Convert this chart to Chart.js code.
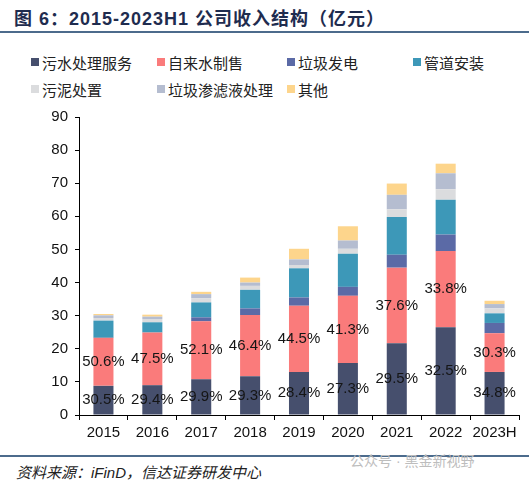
<!DOCTYPE html>
<html>
<head>
<meta charset="utf-8">
<script src="https://cdn.jsdelivr.net/npm/chart.js@4.4.0/dist/chart.umd.min.js"></script>
<style>
  body { margin: 0; width: 529px; height: 481px; background: #fff; position: relative; overflow: hidden;
         font-family: "Liberation Sans", Arial, "Noto Sans CJK SC", sans-serif; }
  #title { position: absolute; left: 14px; top: 4px; font-size: 18px; font-weight: bold; color: #1f2c4f;
           letter-spacing: 1px; white-space: nowrap; }
  #topline { position: absolute; left: 0; top: 31px; width: 529px; height: 2px; background: #4c6b8c; }
  #legend { position: absolute; left: 31px; top: 52px; display: grid;
            grid-template-columns: 126px 130px 126px 116px; row-gap: 7px; font-size: 15px; color: #222; }
  #legend div { display: flex; align-items: center; height: 20px; white-space: nowrap; }
  #legend span.box { width: 8px; height: 8px; margin-right: 3px; display: inline-block; }
  #wrap { position: absolute; left: 0; top: 100px; width: 529px; height: 345px; }
  #botline { position: absolute; left: 0; top: 455px; width: 529px; height: 2px; background: #4c6b8c; }
  #source { position: absolute; left: 16px; top: 461px; font-size: 15px; font-style: italic; color: #222; white-space: nowrap; }
  #mark { position: absolute; left: 350px; top: 450px; font-size: 14px; color: #bdbdbd; white-space: nowrap; }
</style>
</head>
<body>
<div id="title">图 6：2015-2023H1 公司收入结构（亿元）</div>
<div id="topline"></div>
<div id="legend"></div>
<div id="wrap"><canvas id="revenue-chart"></canvas></div>
<div id="botline"></div>
<div id="source">资料来源：iFinD，信达证券研发中心</div>
<div id="mark">公众号 · 黑金新视野</div>
<script>
  // Data (亿元)
  var years = ["2015", "2016", "2017", "2018", "2019", "2020", "2021", "2022", "2023H"];
  var sewage = [8.8, 9.0, 10.8, 11.7, 13.0, 15.7, 21.7, 26.5, 13.0];
  var water = [14.5, 15.9, 17.5, 18.5, 20.0, 20.3, 22.8, 23.0, 11.7];
  var power = [0, 0, 1.2, 2.0, 2.5, 2.7, 3.9, 5.0, 3.1];
  var pipe = [5.2, 3.1, 4.5, 5.6, 8.8, 10.0, 11.4, 10.5, 2.9];
  var sludge = [0.8, 1.0, 1.3, 1.2, 1.0, 1.5, 2.3, 3.2, 1.5];
  var leachate = [0.8, 0.7, 1.2, 1.0, 1.7, 2.5, 4.4, 4.8, 1.3];
  var other = [0.4, 0.6, 0.7, 1.5, 3.2, 4.3, 3.4, 2.9, 1.0];
  var sewagePct = ["30.5%", "29.4%", "29.9%", "29.3%", "28.4%", "27.3%", "29.5%", "32.5%", "34.8%"];
  var waterPct = ["50.6%", "47.5%", "52.1%", "46.4%", "44.5%", "41.3%", "37.6%", "33.8%", "30.3%"];
  var yTicks = [0, 10, 20, 30, 40, 50, 60, 70, 80, 90];

  var seriesNames = ["污水处理服务", "自来水制售", "垃圾发电", "管道安装", "污泥处置", "垃圾渗滤液处理", "其他"];
  var seriesData = [sewage, water, power, pipe, sludge, leachate, other];
  var seriesColors = ["#464f6d", "#fa7b7b", "#5b6aa6", "#3d98b8", "#dbdcde", "#b5bdd0", "#fdd58c"];

  var fontFamily = '"Liberation Sans", Arial, "Noto Sans CJK SC", sans-serif';

  // HTML legend
  var legend = document.getElementById("legend");
  seriesNames.forEach(function (name, i) {
    var item = document.createElement("div");
    item.innerHTML = '<span class="box" style="background:' + seriesColors[i] + '"></span>' + name;
    legend.appendChild(item);
  });

  // percentage labels centred in the first two segments
  var pctLabels = {
    id: "pctLabels",
    afterDatasetsDraw: function (chart) {
      var ctx = chart.ctx;
      var labelSets = [sewagePct, waterPct];
      ctx.save();
      ctx.font = "15px " + fontFamily;
      ctx.fillStyle = "#151515";
      ctx.textAlign = "center";
      ctx.textBaseline = "middle";
      labelSets.forEach(function (labels, d) {
        chart.getDatasetMeta(d).data.forEach(function (bar, i) {
          var p = bar.getProps(["x", "y", "base"], true);
          ctx.fillText(labels[i], p.x, (p.y + p.base) / 2);
        });
      });
      ctx.restore();
    }
  };

  var ctx = document.getElementById("revenue-chart").getContext("2d");
  var revenueChart = new Chart(ctx, {
    type: "bar",
    data: {
      labels: years,
      datasets: seriesNames.map(function (name, i) {
        return {
          label: name,
          data: seriesData[i],
          backgroundColor: seriesColors[i],
          borderWidth: 0,
          barPercentage: 0.41,
          categoryPercentage: 1.0
        };
      })
    },
    options: {
      responsive: true,
      maintainAspectRatio: false,
      animation: false,
      layout: { padding: { top: 17, right: 10, left: 0, bottom: 0 } },
      plugins: {
        legend: { display: false },
        tooltip: { enabled: false }
      },
      scales: {
        x: {
          stacked: true,
          grid: { drawOnChartArea: false, color: "#000", tickLength: 5, offset: true },
          border: { color: "#000", width: 1 },
          ticks: { color: "#111", font: { size: 15, family: fontFamily }, padding: 4, maxRotation: 0 },
          afterFit: function (axis) { axis.height = 30; }
        },
        y: {
          stacked: true,
          min: 0,
          max: 90,
          afterBuildTicks: function (axis) {
            axis.ticks = yTicks.map(function (v) { return { value: v }; });
          },
          grid: { drawOnChartArea: false, color: "#000", tickLength: 4 },
          border: { color: "#000", width: 1 },
          ticks: { color: "#111", font: { size: 15, family: fontFamily }, padding: 7 },
          afterFit: function (axis) { axis.width = 79; }
        }
      }
    },
    plugins: [pctLabels]
  });
</script>
</body>
</html>
